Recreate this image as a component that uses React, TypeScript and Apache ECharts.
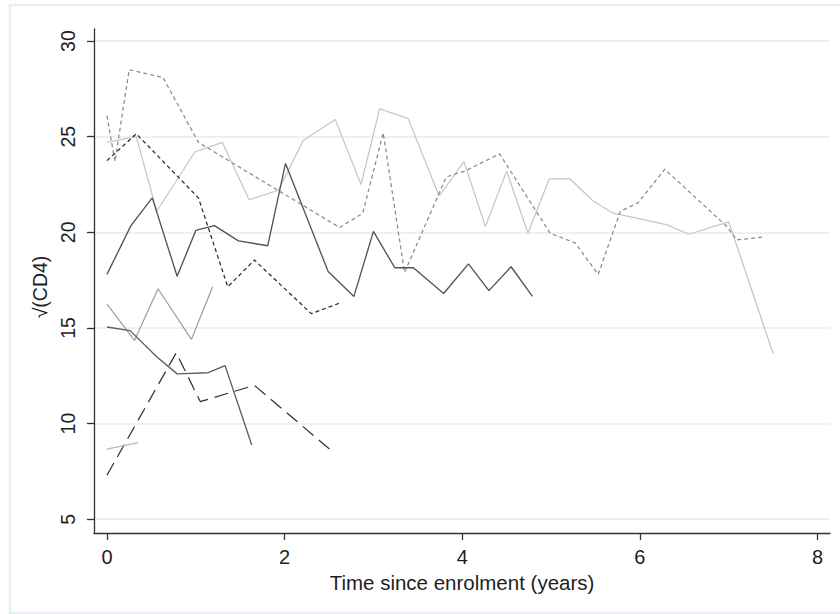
import React, { useEffect, useRef } from "react";
import * as echarts from "echarts";

// Time since enrolment (years) and sqrt(CD4) for each subject
const tA = [0, 0.33, 0.56, 0.99, 1.3, 1.6, 1.93, 2.21, 2.57, 2.86, 3.07, 3.39, 3.74, 4.02, 4.26, 4.5, 4.74, 4.98, 5.21, 5.47, 5.7, 6.3, 6.55, 7.0, 7.5];
const vA = [24.7, 25.0, 21.1, 24.2, 24.7, 21.7, 22.2, 24.8, 25.9, 22.5, 26.45, 25.95, 21.9, 23.7, 20.3, 23.2, 19.95, 22.8, 22.8, 21.65, 21.0, 20.4, 19.9, 20.55, 13.65];

const tB = [0, 0.09, 0.25, 0.63, 1.03, 2.62, 2.88, 3.11, 3.35, 3.82, 4.03, 4.42, 4.99, 5.27, 5.53, 5.78, 5.98, 6.28, 6.98, 7.09, 7.39];
const vB = [26.1, 23.7, 28.5, 28.1, 24.7, 20.25, 21.0, 25.2, 17.9, 22.9, 23.2, 24.1, 19.95, 19.45, 17.8, 21.1, 21.55, 23.3, 20.3, 19.6, 19.75];

const tC = [0, 0.33, 1.03, 1.36, 1.66, 2.3, 2.62];
const vC = [23.75, 25.15, 21.8, 17.15, 18.55, 15.75, 16.3];

const tD = [0, 0.27, 0.51, 0.79, 1.0, 1.21, 1.48, 1.81, 2.01, 2.49, 2.78, 3.0, 3.24, 3.45, 3.79, 4.07, 4.3, 4.55, 4.79];
const vD = [17.8, 20.35, 21.8, 17.7, 20.1, 20.35, 19.55, 19.3, 23.6, 17.95, 16.65, 20.05, 18.15, 18.15, 16.8, 18.35, 16.95, 18.2, 16.65];

const tE = [0, 0.31, 0.575, 0.95, 1.19];
const vE = [16.25, 14.35, 17.05, 14.4, 17.15];

const tF = [0, 0.26, 0.56, 0.79, 1.14, 1.33, 1.63];
const vF = [15.05, 14.86, 13.5, 12.6, 12.66, 13.03, 8.88];

const tG = [0, 0.78, 1.05, 1.66, 2.51];
const vG = [7.3, 13.7, 11.15, 12.0, 8.65];

const tH = [0, 0.35];
const vH = [8.67, 9.0];

const xTicks = [0, 2, 4, 6, 8];
const yTicks = [5, 10, 15, 20, 25, 30];

const xName = "Time since enrolment (years)";
const yName = "√(CD4)";

const zip = (t: number[], v: number[]) => t.map((x, i) => [x, v[i]]);

const FONT = "Liberation Sans";

export default function App() {
  const ref = useRef<HTMLDivElement>(null);
  useEffect(() => {
    if (!ref.current) return;
    const chart = echarts.init(ref.current, undefined, { renderer: "svg" });
    const mk = (t: number[], v: number[], color: string, type: any, width = 1.25) => ({
      type: "line",
      data: zip(t, v),
      symbol: "none",
      silent: true,
      lineStyle: { color, width, type },
    });
    chart.setOption({
      animation: false,
      backgroundColor: "#ffffff",
      graphic: [
        {
          type: "rect",
          shape: { x: 10, y: 5, width: 840, height: 608 },
          style: { fill: "none", stroke: "#E6EFF1", lineWidth: 2.5 },
          silent: true,
          z: -10,
        },
      ],
      grid: { left: 94, top: 29, right: 10, bottom: 81, containLabel: false },
      xAxis: {
        type: "value",
        min: -0.146,
        max: 8.14,
        name: xName,
        nameLocation: "middle",
        nameGap: 35,
        nameTextStyle: { fontFamily: FONT, fontSize: 20.5, color: "#1e1e1e" },
        axisLine: { onZero: false, lineStyle: { color: "#333", width: 1.3 } },
        axisTick: { show: true, length: 7, customValues: xTicks, lineStyle: { color: "#333", width: 1.3 } },
        axisLabel: { customValues: xTicks, margin: 14, fontFamily: FONT, fontSize: 20, color: "#1e1e1e" },
        splitLine: { show: false },
      },
      yAxis: {
        type: "value",
        min: 4.28,
        max: 30.63,
        name: yName,
        nameLocation: "middle",
        nameGap: 39,
        nameRotate: 90,
        nameTextStyle: { fontFamily: FONT, fontSize: 19.5, color: "#1e1e1e", padding: [0, 12, 0, 0] },
        axisLine: { show: true, onZero: false, lineStyle: { color: "#333", width: 1.3 } },
        axisTick: { show: true, length: 7, customValues: yTicks, lineStyle: { color: "#333", width: 1.3 } },
        axisLabel: { customValues: yTicks, rotate: 90, margin: 16, fontFamily: FONT, fontSize: 19.5, color: "#1e1e1e" },
        splitLine: { show: true, lineStyle: { color: "#EAF2F3", width: 1.8 } },
      },
      series: [
        mk(tA, vA, "#c6c6c6", "solid"),
        mk(tB, vB, "#8c8c8c", [4, 3]),
        mk(tC, vC, "#2b2b2b", [4, 3]),
        mk(tD, vD, "#545454", "solid", 1.35),
        mk(tE, vE, "#a0a0a0", "solid"),
        mk(tF, vF, "#5e5e5e", "solid", 1.35),
        mk(tG, vG, "#333333", [14, 7]),
        mk(tH, vH, "#b8b8b8", "solid"),
      ],
    });
    return () => chart.dispose();
  }, []);
  return <div ref={ref} style={{ position: "fixed", left: 0, top: 0, width: 840, height: 614 }} />;
}
